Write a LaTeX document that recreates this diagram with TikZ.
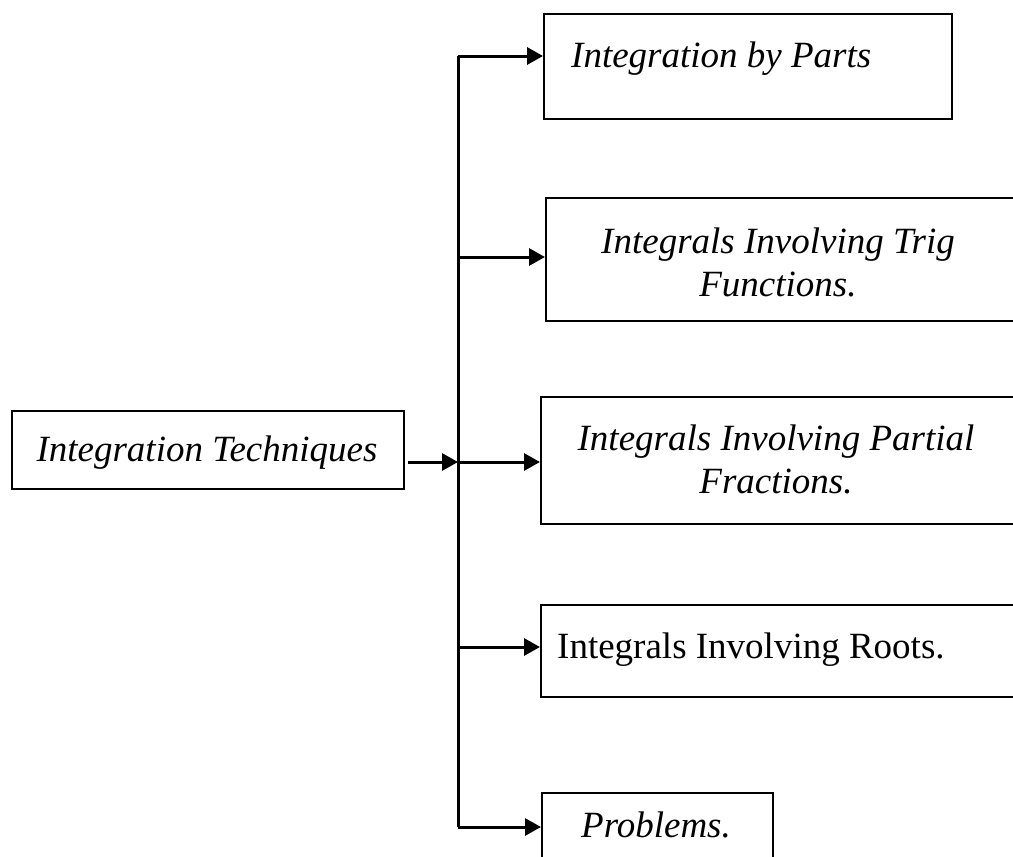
\documentclass[tikz,border=0pt]{standalone}
\usepackage{fontspec}
\setmainfont{Liberation Serif}
\usetikzlibrary{arrows.meta}
\begin{document}
\begin{tikzpicture}[x=1pt,y=-1pt,
  box/.style={draw, line width=2pt, rectangle, inner sep=0pt, anchor=north west},
  conn/.style={line width=3pt, -{Triangle[length=16pt,width=17pt]}},
  lbl/.style={inner sep=0pt, font=\fontsize{37}{43}\selectfont\itshape},
  lblup/.style={inner sep=0pt, font=\fontsize{37}{43}\selectfont},
]
\useasboundingbox (0,0) rectangle (1013,857);
\clip (0,0) rectangle (1013,857);
% boxes
\node[box, minimum width=392pt, minimum height=78pt] (b0) at (11,410) {};
\node[box, minimum width=408pt, minimum height=105pt] (b1) at (543,13) {};
\node[box, minimum width=485pt, minimum height=123pt] (b2) at (545,197) {};
\node[box, minimum width=490pt, minimum height=127pt] (b3) at (540,396) {};
\node[box, minimum width=490pt, minimum height=92pt] (b4) at (540,604) {};
\node[box, minimum width=231pt, minimum height=88pt] (b5) at (541,792) {};
% texts
\node[lbl, anchor=base] (t0) at (207,461) {Integration Techniques};
\node[lbl, anchor=base west] (t1) at (571,67) {Integration by Parts};
\node[lbl, anchor=base] (t2a) at (778,253) {Integrals Involving Trig};
\node[lbl, anchor=base] (t2b) at (778,296) {Functions.};
\node[lbl, anchor=base] (t3a) at (776,450) {Integrals Involving Partial};
\node[lbl, anchor=base] (t3b) at (776,493) {Fractions.};
\node[lblup, anchor=base west] (t4) at (557,658) {Integrals Involving Roots.};
\node[lbl, anchor=base] (t5) at (656,837) {Problems.};
% junctions on the vertical line
\coordinate (j1) at (458,56);
\coordinate (j2) at (458,257);
\coordinate (j3) at (458,462);
\coordinate (j4) at (458,647);
\coordinate (j5) at (458,827);
% connectors
\draw[line width=3pt] (j1) -- (j5);
\draw[conn] (j1) -- (j1 -| b1.west);
\draw[conn] (j2) -- (j2 -| b2.west);
\draw[conn, shorten <=3pt] (j3 -| b0.east) -- (j3);
\draw[conn] (j3) -- (j3 -| b3.west);
\draw[conn] (j4) -- (j4 -| b4.west);
\draw[conn] (j5) -- (j5 -| b5.west);
\end{tikzpicture}
\end{document}
